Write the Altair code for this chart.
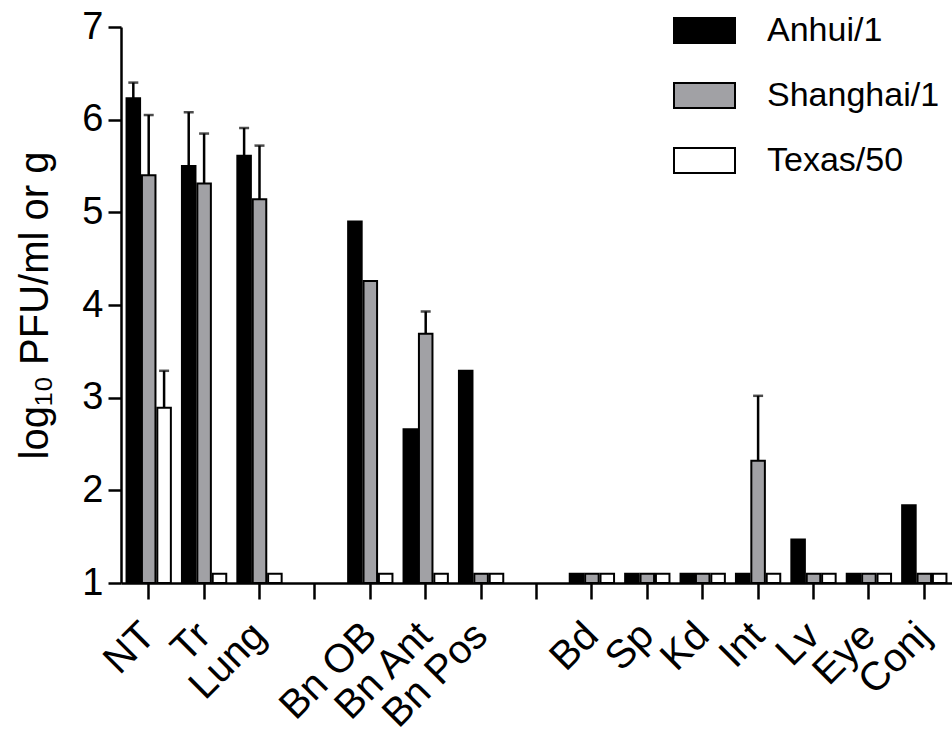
import altair as alt
import pandas as pd

categories = ["NT", "Tr", "Lung", " ", "Bn OB", "Bn Ant", "Bn Pos", "  ",
              "Bd", "Sp", "Kd", "Int", "Lv", "Eye", "Conj"]
data_categories = ["NT", "Tr", "Lung", "Bn OB", "Bn Ant", "Bn Pos",
                   "Bd", "Sp", "Kd", "Int", "Lv", "Eye", "Conj"]
series = ["Anhui/1", "Shanghai/1", "Texas/50"]

anhui = [6.23, 5.50, 5.61, 4.90, 2.66, 3.29, 1.1, 1.1, 1.1, 1.1, 1.47, 1.1, 1.84]
shanghai = [5.40, 5.31, 5.14, 4.26, 3.69, 1.1, 1.1, 1.1, 1.1, 2.32, 1.1, 1.1, 1.1]
texas = [2.89, 1.1, 1.1, 1.1, 1.1, 1.1, 1.1, 1.1, 1.1, 1.1, 1.1, 1.1, 1.1]

anhui_upper = [6.40, 6.08, 5.91, None, None, None, None, None, None, None, None, None, None]
shanghai_upper = [6.05, 5.85, 5.72, None, 3.93, None, None, None, None, 3.02, None, None, None]
texas_upper = [3.29, None, None, None, None, None, None, None, None, None, None, None, None]

rows = []
for s, vals, ups in [(series[0], anhui, anhui_upper),
                     (series[1], shanghai, shanghai_upper),
                     (series[2], texas, texas_upper)]:
    for c, v, u in zip(data_categories, vals, ups):
        rows.append({"tissue": c, "virus": s, "value": v, "upper": u})
df = pd.DataFrame(rows)
err = df.dropna(subset=["upper"])

FONT = "Liberation Sans"
x_scale = alt.Scale(domain=categories, paddingInner=0.2, paddingOuter=0.1)

x_enc = alt.X("tissue:N", scale=x_scale,
              axis=alt.Axis(title=None, labelAngle=315, labelAlign="right",
                            labelBaseline="middle", labelFontSize=40, labelFont=FONT,
                            labelColor="black", labelPadding=30, tickSize=16,
                            tickWidth=2.5, tickColor="black", domainColor="black",
                            domainWidth=2.5, labelOverlap=False, labelFlush=False))
xo_enc = alt.XOffset("virus:N", scale=alt.Scale(domain=series, paddingInner=0.12))
y_scale = alt.Scale(domain=[1, 7], zero=False, nice=False)

bars = alt.Chart(df).mark_bar(stroke="black", strokeWidth=2).encode(
    x=x_enc,
    xOffset=xo_enc,
    y=alt.Y("value:Q", scale=y_scale,
            axis=alt.Axis(title="log₁₀  PFU/ml or g", titleFontSize=40, titleFont=FONT,
                          titleFontWeight="normal", titleColor="black", titlePadding=26,
                          values=[1, 2, 3, 4, 5, 6, 7], format="d", labelFontSize=38,
                          labelFont=FONT, labelColor="black", labelPadding=5, tickSize=13,
                          tickWidth=2.5, tickColor="black", domainColor="black",
                          domainWidth=2.5, grid=False)),
    y2=alt.datum(1),
    fill=alt.Fill("virus:N",
                  scale=alt.Scale(domain=series, range=["#000000", "#a1a1a5", "#ffffff"]),
                  legend=alt.Legend(title=None, orient="none", legendX=552, legendY=-28,
                                    symbolType="M-1,-0.41L1,-0.41L1,0.41L-1,0.41Z",
                                    symbolSize=3721, symbolStrokeColor="black",
                                    symbolStrokeWidth=2, labelFontSize=34, labelFont=FONT,
                                    labelColor="black", labelOffset=31, rowPadding=16,
                                    labelLimit=400)),
)

rules = alt.Chart(err).mark_rule(color="black", strokeWidth=2.5).encode(
    x=alt.X("tissue:N", scale=x_scale),
    xOffset=xo_enc,
    y=alt.Y("value:Q", scale=y_scale),
    y2="upper:Q",
)

caps = alt.Chart(err).mark_tick(color="black", thickness=2.5, size=10).encode(
    x=alt.X("tissue:N", scale=x_scale),
    xOffset=xo_enc,
    y=alt.Y("upper:Q", scale=y_scale),
)

chart = alt.layer(bars, rules, caps).properties(
    width=831, height=556,
    autosize=alt.AutoSizeParams(type="none"),
    padding={"left": 121, "top": 27, "right": 0, "bottom": 151},
    background="white",
).configure_view(stroke=None)

chart.save("out.html", embed_options={"renderer": "svg", "actions": False})
